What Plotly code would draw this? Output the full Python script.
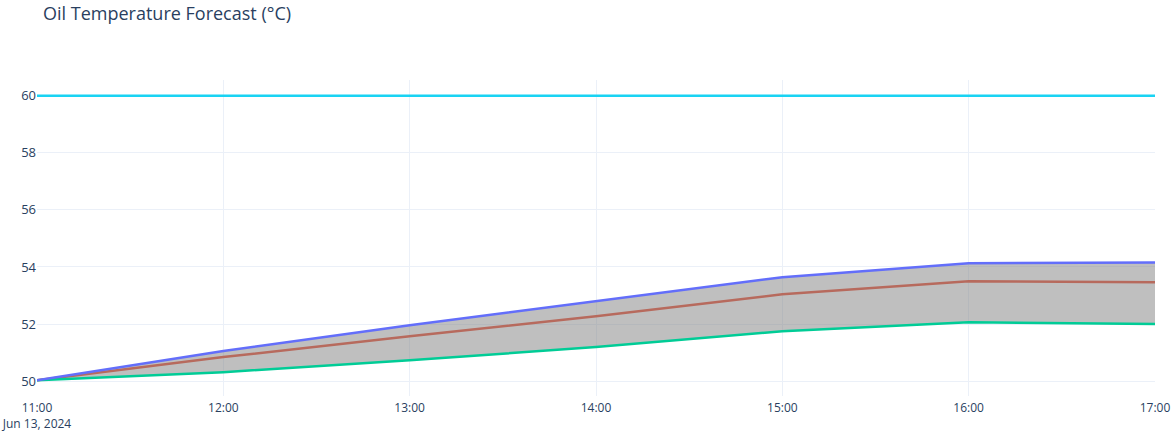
import plotly.graph_objects as go

times = ["2024-06-13 11:00", "2024-06-13 12:00", "2024-06-13 13:00", "2024-06-13 14:00",
         "2024-06-13 15:00", "2024-06-13 16:00", "2024-06-13 17:00"]
forecast = [50.03, 50.84, 51.57, 52.27, 53.04, 53.50, 53.46]
lower_bound = [50.03, 50.31, 50.73, 51.19, 51.75, 52.06, 52.00]
upper_bound = [50.03, 51.05, 51.96, 52.80, 53.64, 54.13, 54.16]
threshold = [60.0] * len(times)

FONT = "Open Sans, Roboto, sans-serif"

fig = go.Figure()
fig.add_trace(go.Scatter(x=times, y=forecast, mode="lines", name="Forecast",
                         line=dict(color="#EF553B", width=2.5)))
fig.add_trace(go.Scatter(x=times, y=lower_bound, mode="lines", name="Lower bound",
                         line=dict(color="#00cc96", width=2.5)))
fig.add_trace(go.Scatter(x=times, y=upper_bound, mode="lines", name="Upper bound",
                         line=dict(color="#636efa", width=2.5),
                         fill="tonexty", fillcolor="rgba(128,128,128,0.5)"))
fig.add_trace(go.Scatter(x=times, y=threshold, mode="lines", name="Threshold",
                         line=dict(color="#19d3f3", width=2.5)))

fig.update_layout(
    template="plotly_white",
    width=1173, height=435,
    showlegend=False,
    font=dict(family=FONT, color="#2a3f5f"),
    title=dict(text="Oil Temperature Forecast (°C)", x=43 / 1173, xanchor="left",
               y=1 - 14 / 435, yanchor="middle",
               font=dict(family=FONT, size=18, color="#2a3f5f")),
    margin=dict(l=37, r=18, t=80, b=39),
)
fig.update_xaxes(tickfont=dict(size=12), ticklabeloverflow="allow", dtick=3600000,
                 automargin=False, ticklabelstandoff=3)
fig.update_yaxes(tickfont=dict(size=13), dtick=2, automargin=False)

fig.write_html("out.html")
